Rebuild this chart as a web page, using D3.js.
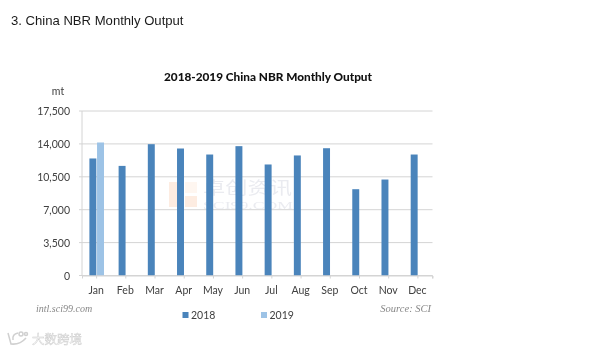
<!DOCTYPE html>
<html lang="en">
<head>
    <meta charset="UTF-8">
    <title>China NBR Monthly Output</title>
    <script src="https://cdn.jsdelivr.net/npm/d3@7/dist/d3.min.js"></script>
    <style>
        html, body { margin: 0; padding: 0; background: #fff; }
        svg { display: block; }
        .tick-label { font-family: Lato, sans-serif; font-size: 10.5px; fill: #404040; }
        .blurred { filter: blur(0.4px); }
    </style>
</head>
<body>
    <script>
        var months = ["Jan", "Feb", "Mar", "Apr", "May", "Jun", "Jul", "Aug", "Sep", "Oct", "Nov", "Dec"];
        var seriesNames = ["2018", "2019"];
        var output2018 = [12450, 11660, 13970, 13510, 12870, 13760, 11810, 12770, 13540, 9180, 10210, 12870];
        var output2019 = [14150];
        var yTicks = [0, 3500, 7000, 10500, 14000, 17500];
        var colors = ["#4a84bb", "#9dc3e6"];

        var width = 616, height = 351;
        var plot = { left: 82, right: 432.5, top: 111, bottom: 275.5 };

        var x = d3.scaleBand().domain(months).range([plot.left, plot.right]);
        var xInner = d3.scaleBand().domain(seriesNames).range([7.4, 22]).paddingInner(0.09);
        var y = d3.scaleLinear().domain([0, 17500]).range([plot.bottom, plot.top]);

        var svg = d3.select("body").append("svg")
            .attr("width", width)
            .attr("height", height);

        var root = svg.append("g").attr("class", "blurred");

        // Page heading
        root.append("text")
            .attr("x", 11).attr("y", 25)
            .attr("font-family", "Liberation Sans")
            .attr("font-size", 13.1)
            .attr("fill", "#1a1a1a")
            .text("3. China NBR Monthly Output");

        // Chart title
        root.append("text")
            .attr("x", 268).attr("y", 81)
            .attr("text-anchor", "middle")
            .attr("font-family", "Lato")
            .attr("font-weight", 900)
            .attr("font-size", 11.8)
            .attr("textLength", 208)
            .attr("fill", "#111")
            .text("2018-2019 China NBR Monthly Output");

        root.append("text")
            .attr("class", "tick-label")
            .attr("x", 58).attr("y", 95)
            .attr("text-anchor", "middle")
            .text("mt");

        // Gridlines
        root.append("g").selectAll("line")
            .data(yTicks)
            .enter().append("line")
            .attr("x1", plot.left - 3)
            .attr("x2", plot.right)
            .attr("y1", d => y(d))
            .attr("y2", d => y(d))
            .attr("stroke", "#d4d4d4")
            .attr("stroke-width", 1);

        // Faint watermark behind the bars
        var mark = root.append("g").attr("opacity", 0.55);
        mark.append("rect").attr("x", 169).attr("y", 182).attr("width", 10).attr("height", 25).attr("fill", "#fbdcc8");
        mark.append("rect").attr("x", 185).attr("y", 196).attr("width", 12).attr("height", 11).attr("fill", "#fbdcc8");
        mark.append("rect").attr("x", 185).attr("y", 182).attr("width", 12).attr("height", 11).attr("fill", "#fdeee4");
        mark.append("text")
            .attr("x", 203).attr("y", 194)
            .attr("font-family", "Noto Sans CJK SC")
            .attr("font-size", 17)
            .attr("textLength", 89)
            .attr("lengthAdjust", "spacingAndGlyphs")
            .attr("fill", "#d9dbe4")
            .text("卓创资讯");
        mark.append("text")
            .attr("x", 203).attr("y", 209)
            .attr("font-family", "Liberation Serif")
            .attr("font-size", 11)
            .attr("textLength", 90)
            .attr("lengthAdjust", "spacingAndGlyphs")
            .attr("fill", "#d9dbe4")
            .text("SCI99.COM");

        // Y axis line and labels
        root.append("line")
            .attr("x1", plot.left).attr("x2", plot.left)
            .attr("y1", plot.top).attr("y2", plot.bottom)
            .attr("stroke", "#d4d4d4");

        root.append("g").selectAll("text")
            .data(yTicks)
            .enter().append("text")
            .attr("class", "tick-label")
            .attr("x", 70)
            .attr("y", d => y(d) + 4)
            .attr("text-anchor", "end")
            .text(d => d3.format(",")(d));

        // Bars
        var barData = [output2018, output2019];
        barData.forEach(function (values, i) {
            root.append("g").selectAll("rect")
                .data(values)
                .enter().append("rect")
                .attr("x", (d, j) => x(months[j]) + xInner(seriesNames[i]))
                .attr("y", d => y(d))
                .attr("width", xInner.bandwidth())
                .attr("height", d => y(0) - y(d))
                .attr("fill", colors[i]);
        });

        // X axis, ticks sit at the month centres
        var xAxis = d3.axisBottom(x).tickSize(3).tickPadding(8);
        var xg = root.append("g")
            .attr("transform", "translate(0," + plot.bottom + ")")
            .call(xAxis);
        xg.select(".domain").attr("stroke", "#d4d4d4");
        xg.selectAll("line").attr("stroke", "#d4d4d4");
        xg.selectAll("text")
            .attr("class", "tick-label")
            .attr("dx", -0.5);
        xg.append("line")
            .attr("x1", plot.right).attr("x2", plot.right)
            .attr("y1", 0).attr("y2", 3)
            .attr("stroke", "#d4d4d4");

        // Footer notes
        root.append("text")
            .attr("x", 36).attr("y", 312)
            .attr("font-family", "Liberation Serif")
            .attr("font-style", "italic")
            .attr("font-size", 10)
            .attr("fill", "#888")
            .text("intl.sci99.com");
        root.append("text")
            .attr("x", 431).attr("y", 312)
            .attr("text-anchor", "end")
            .attr("font-family", "Liberation Serif")
            .attr("font-style", "italic")
            .attr("font-size", 10.5)
            .attr("fill", "#888")
            .text("Source: SCI");

        // Legend
        var legendX = d3.scaleOrdinal().domain(seriesNames).range([182.5, 261]);
        var legend = root.append("g").selectAll("g")
            .data(seriesNames)
            .enter().append("g")
            .attr("transform", d => "translate(" + legendX(d) + ",0)");
        legend.append("rect")
            .attr("y", 312).attr("width", 6).attr("height", 6)
            .attr("fill", (d, i) => colors[i]);
        legend.append("text")
            .attr("class", "tick-label")
            .attr("x", 8.5).attr("y", 318.5)
            .text(d => d);

        // Bottom-left site stamp
        var stamp = root.append("g").attr("fill", "none").attr("stroke", "#d0d0d0").attr("stroke-width", 1.5);
        stamp.append("path").attr("d", "M8 333 L11 344 Q20 345 26 338");
        stamp.append("path").attr("d", "M13 340 Q12 334 18 333");
        stamp.append("circle").attr("cx", 21).attr("cy", 334).attr("r", 2);
        stamp.append("circle").attr("cx", 26).attr("cy", 334).attr("r", 1.5);
        root.append("text")
            .attr("x", 32).attr("y", 344)
            .attr("font-family", "Noto Sans CJK SC")
            .attr("font-size", 12.5)
            .attr("textLength", 50)
            .attr("fill", "#fff")
            .attr("stroke", "#cfcfcf")
            .attr("stroke-width", 0.5)
            .text("大数跨境");
    </script>
</body>
</html>
